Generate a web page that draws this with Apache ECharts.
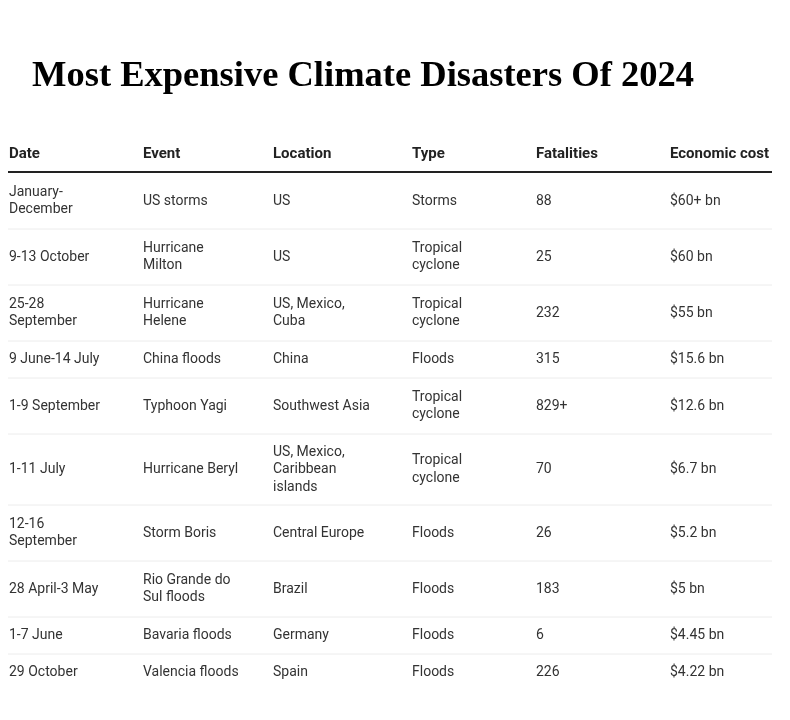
<!DOCTYPE html>
<html>
<head>
<meta charset="utf-8">
<script src="https://cdn.jsdelivr.net/npm/echarts@6/dist/echarts.min.js"></script>
<style>
  html, body { margin: 0; padding: 0; background: #fff; }
  #chart { width: 790px; height: 720px; }
</style>
</head>
<body>
<div id="chart"></div>
<script>
const headers = ['Date', 'Event', 'Location', 'Type', 'Fatalities', 'Economic cost'];
const dates = ['January-\nDecember', '9-13 October', '25-28\nSeptember', '9 June-14 July', '1-9 September', '1-11 July', '12-16\nSeptember', '28 April-3 May', '1-7 June', '29 October'];
const events = ['US storms', 'Hurricane\nMilton', 'Hurricane\nHelene', 'China floods', 'Typhoon Yagi', 'Hurricane Beryl', 'Storm Boris', 'Rio Grande do\nSul floods', 'Bavaria floods', 'Valencia floods'];
const locations = ['US', 'US', 'US, Mexico,\nCuba', 'China', 'Southwest Asia', 'US, Mexico,\nCaribbean\nislands', 'Central Europe', 'Brazil', 'Germany', 'Spain'];
const types = ['Storms', 'Tropical\ncyclone', 'Tropical\ncyclone', 'Floods', 'Tropical\ncyclone', 'Tropical\ncyclone', 'Floods', 'Floods', 'Floods', 'Floods'];
const fatalities = ['88', '25', '232', '315', '829+', '70', '26', '183', '6', '226'];
const costs = ['$60+ bn', '$60 bn', '$55 bn', '$15.6 bn', '$12.6 bn', '$6.7 bn', '$5.2 bn', '$5 bn', '$4.45 bn', '$4.22 bn'];

const colX = [9, 143, 273, 412, 536, 670];
const lineH = 17.5;
const font = '14px Roboto, "Noto Sans", sans-serif';

const chart = echarts.init(document.getElementById('chart'));
const els = [];

els.push({ type: 'text', style: { x: 32, y: 77, text: 'Most Expensive Climate Disasters Of 2024',
  font: 'bold 36.5px "Liberation Serif", "DejaVu Serif", serif', fill: '#000', verticalAlign: 'middle' } });

headers.forEach((h, i) => els.push({ type: 'text', style: { x: colX[i], y: 154, text: h,
  font: 'bold 15px Roboto, "Noto Sans", sans-serif', fill: '#222', verticalAlign: 'middle' } }));
els.push({ type: 'line', shape: { x1: 8, y1: 172, x2: 772, y2: 172 }, style: { stroke: '#222', lineWidth: 2 } });

const cols = [dates, events, locations, types, fatalities, costs];
let y = 173;
dates.forEach((d, r) => {
  const lines = Math.max(...cols.map(c => c[r].split('\n').length));
  const h = lines === 1 ? 37 : lines === 2 ? 56 : 71;
  const mid = y + h / 2;
  cols.forEach((c, i) => els.push({ type: 'text', style: { x: colX[i], y: mid, text: c[r],
    font: font, fill: '#333', lineHeight: lineH, verticalAlign: 'middle' } }));
  y += h;
  if (r < dates.length - 1)
    els.push({ type: 'line', shape: { x1: 8, y1: y, x2: 772, y2: y }, style: { stroke: '#ececec', lineWidth: 1 } });
});

chart.setOption({ graphic: { elements: els } });
</script>
</body>
</html>
